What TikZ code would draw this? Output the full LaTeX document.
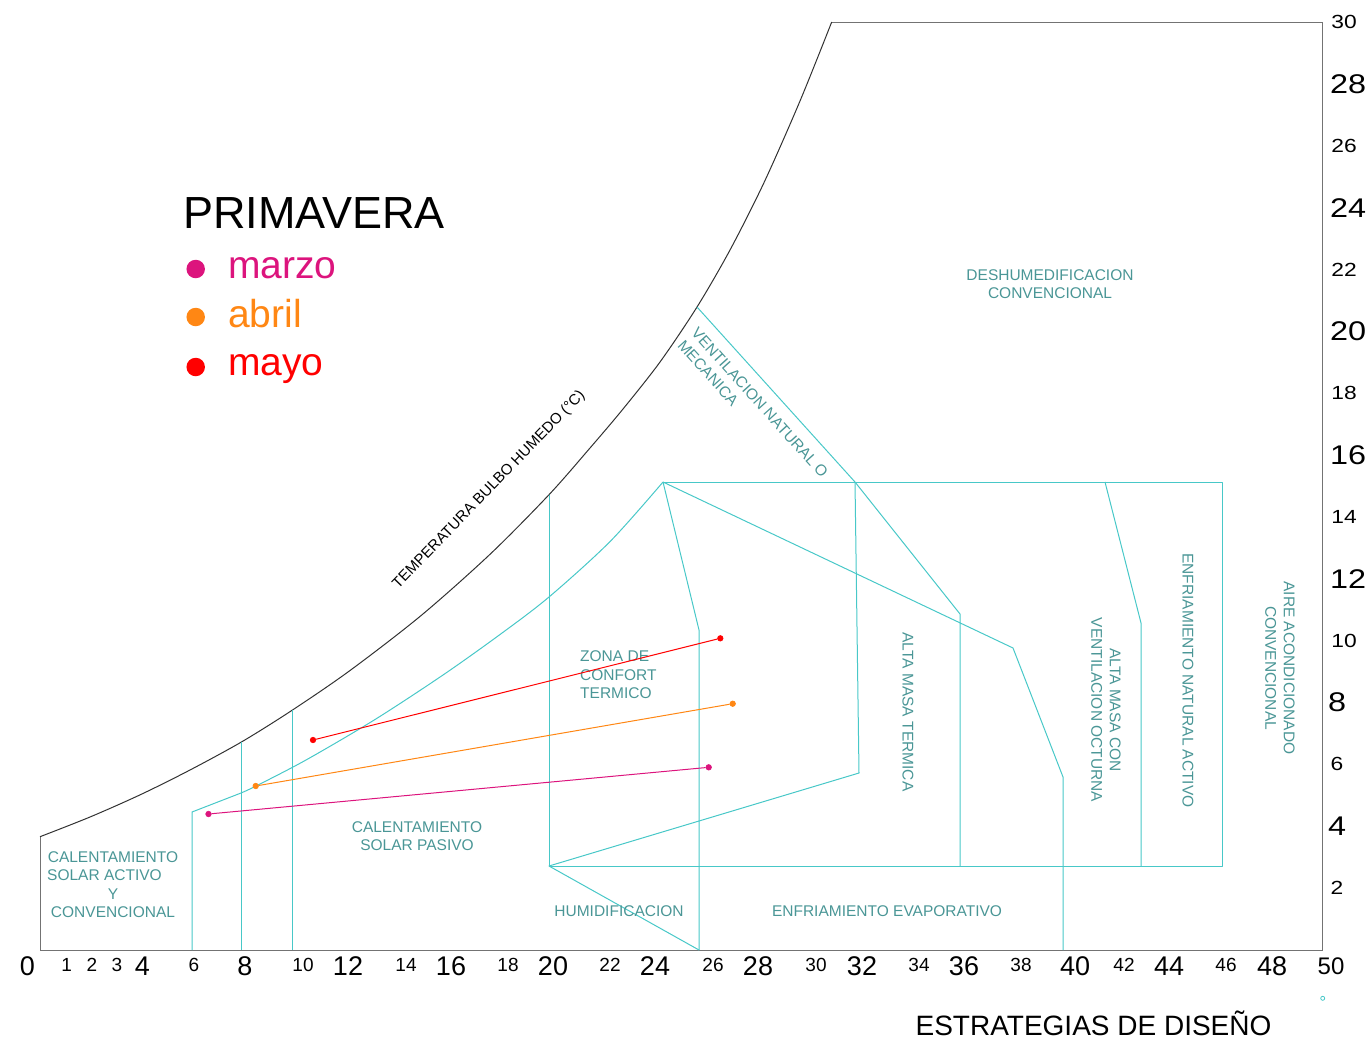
\documentclass[tikz,border=0pt]{standalone}
\usepackage{fontspec}
\setmainfont{Liberation Sans}
\definecolor{zoneline}{RGB}{72,200,200}
\definecolor{zonetxt}{RGB}{74,150,150}
\definecolor{marzo}{RGB}{220,20,125}
\definecolor{abril}{RGB}{255,135,20}
\definecolor{mayo}{RGB}{255,0,0}
\definecolor{frameline}{RGB}{115,115,115}
\definecolor{curveline}{RGB}{50,50,50}

\begin{document}
\begin{tikzpicture}[x=1pt,y=-1pt]
        % Common styles
        \tikzstyle{chartframe}=[line width=1pt, frameline]
        \tikzstyle{satcurve}=[line width=1pt, curveline]
        \tikzstyle{zone}=[line width=1pt, zoneline, line join=round]
        \tikzstyle{zonetext}=[zonetxt, font=\fontsize{15.5}{18.5}\selectfont, align=center, inner sep=0pt]
        \tikzstyle{xbig}=[font=\fontsize{27}{30}\selectfont, inner sep=0pt]
        \tikzstyle{xsmall}=[font=\fontsize{19}{22}\selectfont, inner sep=0pt]
        \tikzstyle{ybig}=[xbig, xscale=1.2]
        \tikzstyle{ysmall}=[xsmall, xscale=1.2]
        \tikzstyle{datapt}=[circle, draw, fill=white, inner sep=0pt, minimum size=5.5pt, line width=0.7pt]
        \tikzstyle{monthline}=[line width=1pt]
        \tikzstyle{legdot}=[circle, fill, inner sep=0pt, minimum size=18.5pt]
        \tikzstyle{legtext}=[anchor=base west, font=\fontsize{39}{42}\selectfont, inner sep=0pt]

        \useasboundingbox (0,0) rectangle (1372,1042);

        % --- Frame and saturation curve ---
        \draw[chartframe] (40,836.7) -- (40,950) -- (1322,950) -- (1322,22) -- (831.7,22);
        \draw[satcurve] plot[smooth] coordinates {(40,836.7) (90,817) (141,794.4) (190,770) (241.9,741.7) (292.5,710) (350,670.5) (421,615.6) (490,554.3) (549,494.7) (590,448) (623,409) (660,362) (697,307) (730,250) (764,182.6) (800,101) (831.7,22)};

        % Key points of the zones
        \coordinate (apex) at (663,482);
        \coordinate (ventTop) at (697,307);
        \coordinate (ventMid) at (855,482);
        \coordinate (humid) at (549,866);
        \coordinate (boxNE) at (1222,482);
        \coordinate (boxSE) at (1222,866);

        % --- Comfort zone and strategies ---
        \draw[zone] (192,950) -- (192,812) -- (241,793);
        \draw[zone] plot[smooth] coordinates {(241,793) (256,786) (306,760) (375,719.5) (443,675) (500,634.5) (549,597) (610,541.6) (apex)};
        \draw[zone] (241.9,741.7) -- (241.9,950);
        \draw[zone] (292.5,710) -- (292.5,950);
        \draw[zone] (549,494.7) -- (humid) -- (boxSE) -- (boxNE) -- (apex);
        \draw[zone] (apex) -- (699,630) -- (699,950);
        \draw[zone] (apex) -- (1013,648) -- (1063,777) -- (1063,950);
        \draw[zone] (ventTop) -- (ventMid) -- (960,614) -- (960,866);
        \draw[zone] (ventMid) -- (859,773) -- (humid) -- (699,950);
        \draw[zone] (1105,482) -- (1141,623) -- (1141,866);
        \draw[zoneline, line width=0.8pt] (1322.7,998.3) circle (2pt);

        % --- Zone labels ---
        \node[zonetext] (deshum) at (1050,284) {DESHUMEDIFICACION\\CONVENCIONAL};
        \node[zonetext, rotate=-48, align=left] (ventila) at (753,409) {VENTILACION NATURAL O\\MECANICA};
        \node[zonetext, anchor=west, align=left] (confort) at (580,675) {ZONA DE\\CONFORT\\TERMICO};
        \node[zonetext] (pasivo) at (417,836) {CALENTAMIENTO\\SOLAR PASIVO};
        \node[zonetext] (activo) at (113,884.8) {CALENTAMIENTO\\SOLAR ACTIVO\rule{17pt}{0pt}\\Y\\CONVENCIONAL};
        \node[zonetext] (humidif) at (619,911) {HUMIDIFICACION};
        \node[zonetext] (evap) at (887,911) {ENFRIAMIENTO EVAPORATIVO};
        \node[zonetext, rotate=-90] (altaMasa) at (908,712) {ALTA MASA TERMICA};
        \node[zonetext, rotate=-90] (altaMasaVent) at (1106,710) {ALTA MASA CON\\VENTILACION OCTURNA};
        \node[zonetext, rotate=-90] (enfNatural) at (1188,680.5) {ENFRIAMIENTO NATURAL ACTIVO};
        \node[zonetext, rotate=-90] (aire) at (1280,668) {AIRE ACONDICIONADO\\CONVENCIONAL};
        \node[font=\fontsize{15}{18}\selectfont, rotate=46, inner sep=0pt] (bulbo) at (489,490) {TEMPERATURA BULBO HUMEDO (°C)};

        % --- Monthly lines ---
        \node[datapt, marzo] (marA) at (208.5,814) {};
        \node[datapt, marzo] (marB) at (708.7,767.3) {};
        \draw[monthline, marzo] (marA) -- (marB);
        \node[datapt, abril] (abrA) at (255.7,786) {};
        \node[datapt, abril] (abrB) at (732.7,703.7) {};
        \draw[monthline, abril] (abrA) -- (abrB);
        \node[datapt, mayo] (mayA) at (313,740) {};
        \node[datapt, mayo] (mayB) at (720.3,638.3) {};
        \draw[monthline, mayo] (mayA) -- (mayB);

        % --- Legend ---
        \node[anchor=base west, font=\fontsize{45}{48}\selectfont, inner sep=0pt] (season) at (183,228) {PRIMAVERA};
        \node[legdot, marzo] (dotMar) at (195.7,269) {};
        \node[legtext, marzo] (txtMar) at (228,278) {marzo};
        \node[legdot, abril] (dotAbr) at (195.7,317) {};
        \node[legtext, abril] (txtAbr) at (228,327) {abril};
        \node[legdot, mayo] (dotMay) at (195.7,367) {};
        \node[legtext, mayo] (txtMay) at (228,375) {mayo};

        % --- Axis labels ---
        \foreach \t/\x in {0/27.5,4/142.5,8/245,12/348,16/451,20/553,24/655,28/758,32/862,36/964,40/1075,44/1169,48/1272}
            \node[xbig] (xl\t) at (\x,966) {\t};
        \node[xbig, font=\fontsize{24}{28}\selectfont] (xl50) at (1331,966) {50};
        \foreach \t/\x in {1/66.7,2/92,3/117,6/194,10/303,14/406,18/508,22/610,26/713,30/816,34/919,38/1021,42/1124,46/1226}
            \node[xsmall] (xl\t) at (\x,964.5) {\t};
        \foreach \v/\x in {28/1348,24/1348,20/1348,16/1348,12/1348,8/1337,4/1337}
            \node[ybig] (yl\v) at (\x,{950-30.93*\v}) {\v};
        \foreach \v/\x in {30/1344,26/1344,22/1344,18/1344,14/1344,10/1344,6/1337,2/1337}
            \node[ysmall] (yl\v) at (\x,{950-30.93*\v}) {\v};
        \node[anchor=base, font=\fontsize{28}{32}\selectfont, inner sep=0pt] (titulo) at (1093.5,1035) {ESTRATEGIAS DE DISEÑO};

\end{tikzpicture}
\end{document}
